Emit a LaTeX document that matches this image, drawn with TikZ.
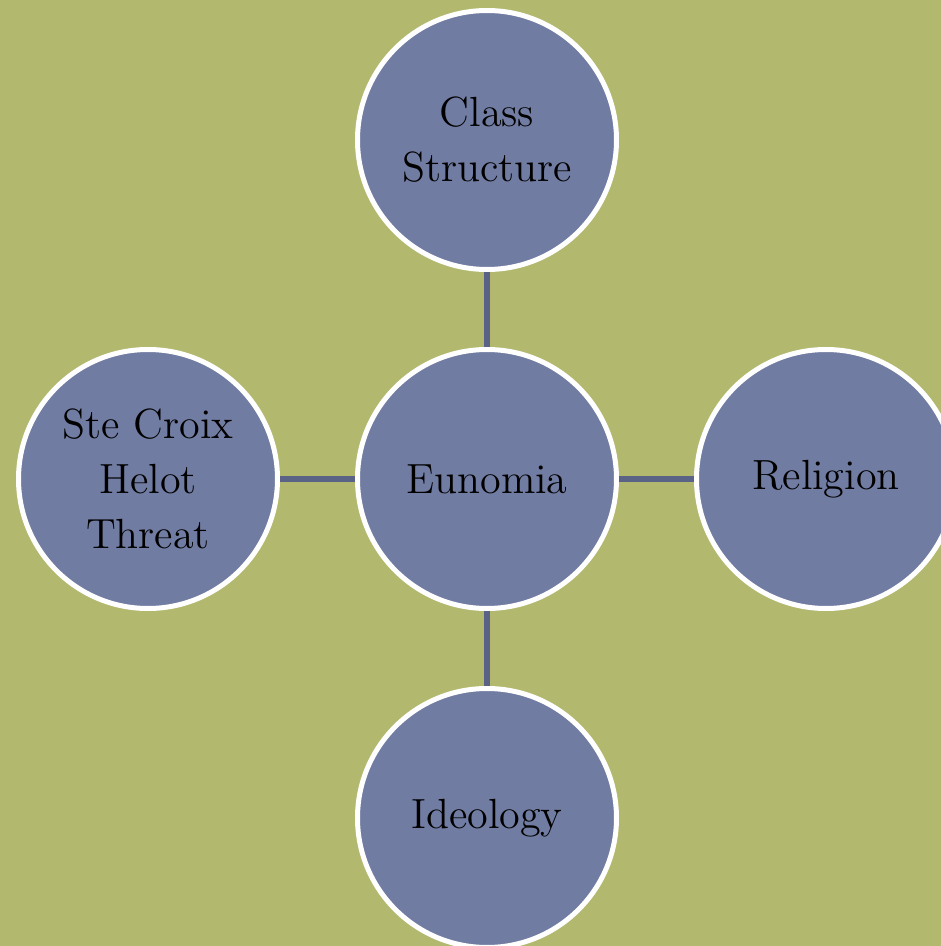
\documentclass[tikz,border=0pt]{standalone}
\usepackage{tikz}
\usetikzlibrary{positioning}
\definecolor{olivebg}{HTML}{B3B86F}
\definecolor{bubblefill}{HTML}{717CA2}
\definecolor{linkblue}{HTML}{5A6385}

\begin{document}
\begin{tikzpicture}[
    bubble/.style={circle, draw=white, line width=0.05cm, fill=bubblefill, minimum size=2.59cm, inner sep=0pt, align=center, font=\fontsize{12}{15.6}\selectfont},
    link/.style={draw=linkblue, line width=0.06cm},
    node distance=0.75cm
]
\fill[olivebg] (0,0) rectangle (9.41,9.46);
\useasboundingbox (0,0) rectangle (9.41,9.46);
\clip (0,0) rectangle (9.41,9.46);

\node[bubble] (eunomia) at (4.87,4.67) {Eunomia};
\node[bubble, above=of eunomia] (class) {Class\\Structure};
\node[bubble, left=of eunomia] (helot) {Ste Croix\\Helot\\Threat};
\node[bubble, right=of eunomia] (religion) {Religion};
\node[bubble, below=of eunomia] (ideology) {Ideology};

\draw[link] (eunomia) -- (class);
\draw[link] (eunomia) -- (helot);
\draw[link] (eunomia) -- (religion);
\draw[link] (eunomia) -- (ideology);
\end{tikzpicture}
\end{document}
